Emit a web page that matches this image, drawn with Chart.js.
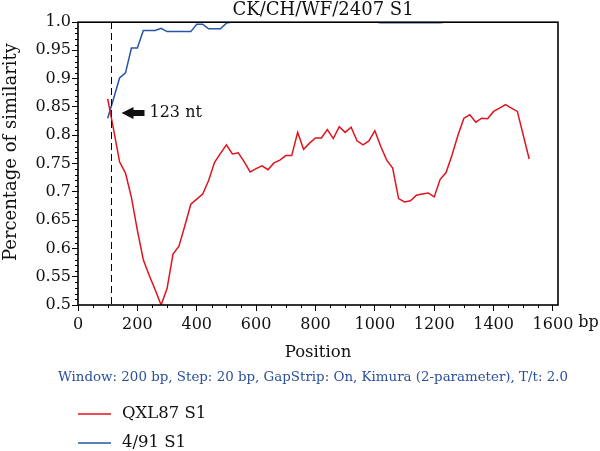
<!DOCTYPE html>
<html>
<head>
<meta charset="utf-8">
<script src="https://cdn.jsdelivr.net/npm/chart.js@4/dist/chart.umd.min.js"></script>
<style>
  body { margin: 0; background: #fff; }
  #wrap { width: 600px; height: 451px; }
</style>
</head>
<body>
<div id="wrap"><canvas id="simplot" width="600" height="451"></canvas></div>
<script>
// Window midpoints (bp), step 20
const positions = [100, 120, 140, 160, 180, 200, 220, 240, 260, 280, 300, 320, 340, 360, 380, 400, 420, 440, 460, 480,
  500, 520, 540, 560, 580, 600, 620, 640, 660, 680, 700, 720, 740, 760, 780, 800, 820, 840, 860, 880,
  900, 920, 940, 960, 980, 1000, 1020, 1040, 1060, 1080, 1100, 1120, 1140, 1160, 1180, 1200, 1220, 1240, 1260, 1280,
  1300, 1320, 1340, 1360, 1380, 1400, 1420, 1440, 1460, 1480, 1500, 1520];

// QXL87 S1 similarity
const qxl87 = [0.864, 0.81, 0.753, 0.733, 0.69, 0.632, 0.58, 0.552, 0.527, 0.500, 0.529, 0.59, 0.604, 0.64, 0.678, 0.687, 0.696, 0.72, 0.752, 0.768,
  0.783, 0.767, 0.769, 0.753, 0.735, 0.741, 0.746, 0.739, 0.751, 0.756, 0.764, 0.764, 0.805, 0.775, 0.786, 0.795, 0.795, 0.81, 0.794, 0.815,
  0.805, 0.814, 0.79, 0.783, 0.79, 0.808, 0.78, 0.756, 0.742, 0.688, 0.682, 0.684, 0.694, 0.696, 0.698, 0.691, 0.722, 0.734, 0.765, 0.8,
  0.83, 0.836, 0.823, 0.83, 0.829, 0.842, 0.848, 0.854, 0.848, 0.842, 0.80, 0.758];

// 4/91 S1 similarity
const s491 = [0.83, 0.865, 0.901, 0.91, 0.954, 0.954, 0.985, 0.985, 0.985, 0.989, 0.983, 0.983, 0.983, 0.983, 0.983, 0.996, 0.996, 0.988, 0.988, 0.988,
  0.998, 1.0, 1.0, 1.0, 1.0, 1.0, 1.0, 1.0, 1.0, 1.0, 1.0, 1.0, 1.0, 1.0, 1.0, 1.0, 1.0, 1.0, 1.0, 1.0,
  1.0, 1.0, 1.0, 1.0, 1.0, 1.0, 0.9985, 0.9985, 0.9985, 0.9985, 0.9985, 0.9985, 0.9985, 0.9985, 0.9985, 0.9985, 0.9985, 1.0, 1.0, 1.0,
  1.0, 1.0, 1.0, 1.0, 1.0, 1.0, 1.0, 1.0, 1.0, 1.0, 1.0, 1.0];

const xTickValues = [0, 200, 400, 600, 800, 1000, 1200, 1400, 1600];
const xTickLabels = ['0', '200', '400', '600', '800', '1000', '1200', '1400', '1600'];
const yTickValues = [0.5, 0.55, 0.6, 0.65, 0.7, 0.75, 0.8, 0.85, 0.9, 0.95, 1.0];
const yTickLabels = ['0.5', '0.55', '0.6', '0.65', '0.7', '0.75', '0.8', '0.85', '0.9', '0.95', '1.0'];

const breakpoint = 110;
const breakpointLabel = '123 nt';
const seriesNames = ['QXL87 S1', '4/91 S1'];
const plotTitle = 'CK/CH/WF/2407 S1';
const yTitle = 'Percentage of similarity';
const settingsNote = 'Window: 200 bp, Step: 20 bp, GapStrip: On, Kimura (2-parameter), T/t: 2.0';

const FONT = '"DejaVu Serif", serif';

// draws box, minor ticks, the breakpoint marker, titles, note and legend
const decorations = {
    id: 'decorations',
    afterDatasetsDraw(chart) {
        const ctx = chart.ctx;
        const a = chart.chartArea;
        const xs = chart.scales.x;
        const ys = chart.scales.y;
        ctx.save();

        // minor ticks
        ctx.strokeStyle = '#000';
        ctx.lineWidth = 1;
        ctx.beginPath();
        for (let v = 0; v <= 1600; v += 50) {
            if (v % 200 === 0) continue;
            const px = Math.round(xs.getPixelForValue(v)) + 0.5;
            ctx.moveTo(px, a.bottom);
            ctx.lineTo(px, a.bottom + 3);
        }
        for (let i = 50; i <= 100; i++) {
            if (i % 5 === 0) continue;
            const py = Math.round(ys.getPixelForValue(i / 100)) + 0.5;
            ctx.moveTo(a.left, py);
            ctx.lineTo(a.left - 3, py);
        }
        ctx.stroke();

        // dashed breakpoint line
        const bx = Math.round(xs.getPixelForValue(breakpoint)) + 0.5;
        ctx.setLineDash([7, 4]);
        ctx.beginPath();
        ctx.moveTo(bx, a.top);
        ctx.lineTo(bx, a.bottom);
        ctx.stroke();
        ctx.setLineDash([]);

        // plot frame (drawn over the lines so values at 1.0 sit under it)
        ctx.lineWidth = 1.6;
        ctx.strokeRect(a.left, a.top + 0.2, a.right - a.left, a.bottom - a.top - 0.2);

        // arrow + label
        const ay = 113;
        const tip = bx + 10;
        ctx.fillStyle = '#111';
        ctx.beginPath();
        ctx.moveTo(tip, ay);
        ctx.lineTo(tip + 12, ay - 6);
        ctx.lineTo(tip + 12, ay - 3);
        ctx.lineTo(tip + 23, ay - 3);
        ctx.lineTo(tip + 23, ay + 3);
        ctx.lineTo(tip + 12, ay + 3);
        ctx.lineTo(tip + 12, ay + 6);
        ctx.closePath();
        ctx.fill();
        ctx.font = '16px ' + FONT;
        ctx.textBaseline = 'middle';
        ctx.textAlign = 'left';
        ctx.fillText(breakpointLabel, tip + 28, ay);

        // "bp" unit after the last x label
        const lastX = xs.getPixelForValue(1600);
        ctx.textBaseline = 'top';
        ctx.fillText('bp', lastX + ctx.measureText('1600').width / 2 + 5, a.bottom + 10);

        // title
        ctx.font = '18px ' + FONT;
        ctx.textAlign = 'center';
        ctx.textBaseline = 'middle';
        ctx.fillText(plotTitle, 323, 10);

        // y axis title
        ctx.save();
        ctx.translate(11, 152);
        ctx.rotate(-Math.PI / 2);
        ctx.font = '18px ' + FONT;
        ctx.fillText(yTitle, 0, 0);
        ctx.restore();

        // settings note
        ctx.font = '13.4px ' + FONT;
        ctx.fillStyle = '#2a4f9c';
        ctx.fillText(settingsNote, 313, 378);

        // legend
        ctx.font = '16.5px ' + FONT;
        ctx.textAlign = 'left';
        chart.data.datasets.forEach((ds, i) => {
            const ly = 414 + i * 29;
            ctx.strokeStyle = ds.borderColor;
            ctx.lineWidth = 1.5;
            ctx.beginPath();
            ctx.moveTo(78, ly);
            ctx.lineTo(111, ly);
            ctx.stroke();
            ctx.fillStyle = '#111';
            ctx.fillText(ds.label, 122, ly);
        });
        ctx.restore();
    }
};

const ctx = document.getElementById('simplot').getContext('2d');
const simChart = new Chart(ctx, {
    type: 'line',
    data: {
        datasets: [
            {
                label: seriesNames[0],
                data: positions.map((p, i) => ({ x: p, y: qxl87[i] })),
                borderColor: '#e0141c',
                borderWidth: 1.5,
                pointRadius: 0,
                tension: 0
            },
            {
                label: seriesNames[1],
                data: positions.map((p, i) => ({ x: p, y: s491[i] })),
                borderColor: '#2556a6',
                borderWidth: 1.5,
                pointRadius: 0,
                tension: 0
            }
        ]
    },
    options: {
        responsive: false,
        animation: false,
        layout: { padding: { top: 22, right: 42, left: 0, bottom: 0 } },
        plugins: {
            legend: { display: false },
            title: { display: false },
            tooltip: { enabled: false }
        },
        scales: {
            x: {
                type: 'linear',
                min: 0,
                max: 1617,
                afterBuildTicks: s => { s.ticks = xTickValues.map(v => ({ value: v })); },
                afterFit: s => { s.height = 146; },
                ticks: {
                    autoSkip: false,
                    maxRotation: 0,
                    padding: 4,
                    color: '#111',
                    font: { family: FONT, size: 16 },
                    callback: (v, i) => xTickLabels[i]
                },
                grid: { drawOnChartArea: false, tickLength: 6, color: '#000' },
                border: { display: false },
                title: {
                    display: true,
                    text: 'Position',
                    color: '#111',
                    font: { family: FONT, size: 16.5 },
                    padding: { top: 0, bottom: 88 }
                }
            },
            y: {
                min: 0.5,
                max: 1.0,
                afterBuildTicks: s => { s.ticks = yTickValues.map(v => ({ value: v })); },
                afterFit: s => { s.width = 78; },
                ticks: {
                    padding: 1,
                    color: '#111',
                    font: { family: FONT, size: 16 },
                    callback: (v, i) => yTickLabels[i]
                },
                grid: { drawOnChartArea: false, tickLength: 6, color: '#000' },
                border: { display: false }
            }
        }
    },
    plugins: [decorations]
});
</script>
</body>
</html>
